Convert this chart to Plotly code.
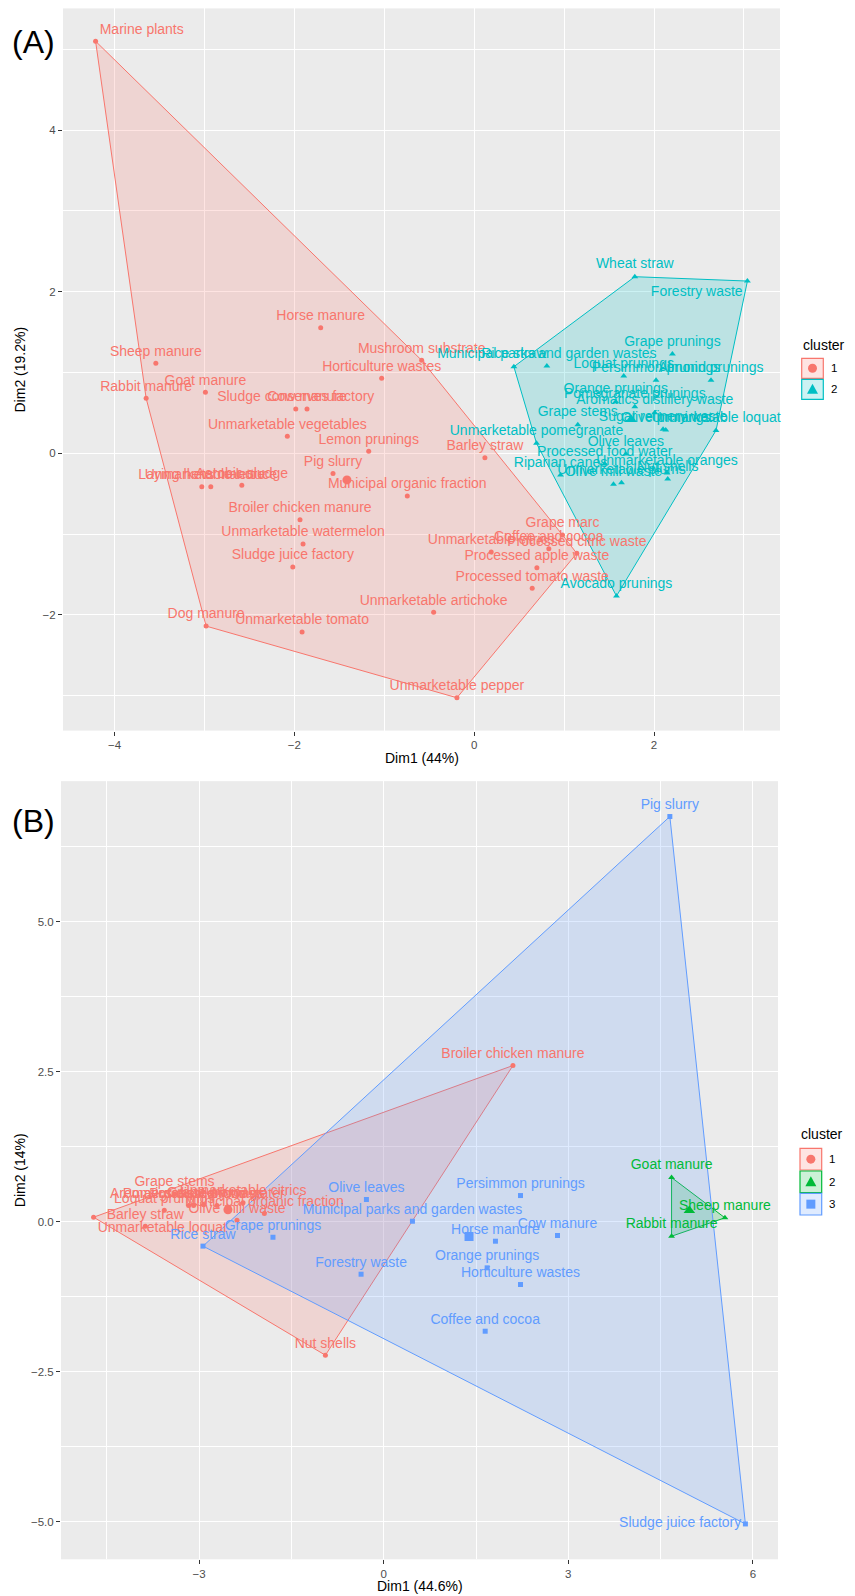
import plotly.graph_objects as go

W, H = 855, 1596
FONT = "Liberation Sans, Arial, Helvetica, sans-serif"
RED, CYAN, GREEN, BLUE = "#F8766D", "#00BFC4", "#00BA38", "#619CFF"

# ---------------- Panel A data (Dim1 44%, Dim2 19.2%) ----------------
a1_names = ["Marine plants", "Sheep manure", "Rabbit manure", "Goat manure", "Horse manure",
            "Sludge conserves factory", "Cow manure", "Mushroom substrate", "Horticulture wastes",
            "Unmarketable vegetables", "Lemon prunings", "Pig slurry", "Municipal organic fraction",
            "Laying hens manure", "Unmarketable lettuce", "Aerobic sludge", "Broiler chicken manure",
            "Unmarketable watermelon", "Sludge juice factory", "Dog manure", "Unmarketable tomato",
            "Unmarketable artichoke", "Unmarketable pepper", "Barley straw", "Grape marc",
            "Coffee and cocoa", "Unmarketable citrics", "Processed citric waste",
            "Processed apple waste", "Processed tomato waste"]
a1_x = [-4.21, -3.54, -3.648, -2.989, -1.707, -1.984, -1.859, -0.584, -1.029, -2.078, -1.173,
        -1.570, -0.744, -3.029, -2.929, -2.584, -1.937, -1.903, -2.017, -2.981, -1.914, -0.451,
        -0.192, 0.119, 0.982, 0.830, 0.189, 1.141, 0.697, 0.645]
a1_y = [5.10, 1.114, 0.681, 0.755, 1.554, 0.548, 0.548, 1.151, 0.928, 0.210, 0.025, -0.248,
        -0.528, -0.413, -0.413, -0.396, -0.822, -1.123, -1.407, -2.138, -2.212, -1.968, -3.025,
        -0.054, -1.011, -1.181, -1.221, -1.238, -1.416, -1.671]

a2_names = ["Wheat straw", "Forestry waste", "Rice straw", "Municipal parks and garden wastes",
            "Grape prunings", "Loquat prunings", "Persimmon prunings", "Almond prunings",
            "Orange prunings", "Pomegranate prunings", "Aromatics distillery waste", "Grape stems",
            "Sugar refinery waste", "Olive prunings", "Unmarketable loquat",
            "Unmarketable pomegranate", "Olive leaves", "Processed food water", "Riparian canes",
            "Unmarketable oranges", "Unmarketable plums", "Nut shells", "Olive mill waste",
            "Avocado prunings"]
a2_x = [1.786, 3.038, 0.441, 0.808, 2.204, 1.663, 2.022, 2.633, 1.574, 1.786, 2.008, 1.152,
        2.10, 2.13, 2.689, 0.693, 1.686, 1.452, 0.96, 2.144, 1.638, 2.152, 1.549, 1.582]
a2_y = [2.186, 2.132, 1.072, 1.080, 1.229, 0.957, 0.903, 0.903, 0.639, 0.577, 0.503, 0.354,
        0.297, 0.289, 0.284, 0.124, -0.009, -0.132, -0.269, -0.244, -0.364, -0.318, -0.384,
        -1.766]

# ---------------- Panel B data (Dim1 44.6%, Dim2 14%) ----------------
b1_names = ["Broiler chicken manure", "Nut shells", "Unmarketable loquat", "Barley straw",
            "Loquat prunings", "Aromatics distillery waste", "Grape marc", "Grape stems",
            "Unmarketable citrics", "Municipal organic fraction", "Olive mill waste",
            "Pomegranate prunings", "Processed food water"]
b1_x = [2.10, -0.948, -4.715, -3.875, -3.566, -3.171, -2.927, -3.399, -2.286, -1.94, -2.384,
        -3.09, -2.71]
b1_y = [2.60, -2.228, 0.072, -0.078, 0.188, 0.267, 0.278, 0.46, 0.312, 0.133, 0.022, 0.267,
        0.267]

b2_names = ["Goat manure", "Sheep manure", "Rabbit manure"]
b2_x = [4.678, 5.545, 4.678]
b2_y = [0.733, 0.062, -0.245]

b3_names = ["Pig slurry", "Persimmon prunings", "Olive leaves", "Municipal parks and garden wastes",
            "Horse manure", "Cow manure", "Orange prunings", "Horticulture wastes", "Forestry waste",
            "Coffee and cocoa", "Grape prunings", "Rice straw", "Sludge juice factory"]
b3_x = [4.65, 2.223, -0.281, 0.467, 1.816, 2.824, 1.681, 2.223, -0.368, 1.649, -1.80, -2.937,
        5.878]
b3_y = [6.75, 0.433, 0.367, 0.005, -0.328, -0.233, -0.772, -1.05, -0.878, -1.828, -0.262, -0.41,
        -5.04]

cluster_labels_a = ["1", "2"]
cluster_labels_b = ["1", "2", "3"]

# labels pushed inside the panel near its edges (as the repelled labels in the original)
label_pos_a = {"Marine plants": "top right", "Forestry waste": "bottom left"}
label_pos_b = {"Unmarketable loquat": "bottom right", "Sludge juice factory": "middle left"}


def hull(xs, ys):
    pts = sorted(set(zip(xs, ys)))
    if len(pts) < 3:
        return pts

    def cross(o, a, b):
        return (a[0] - o[0]) * (b[1] - o[1]) - (a[1] - o[1]) * (b[0] - o[0])

    lower, upper = [], []
    for p in pts:
        while len(lower) >= 2 and cross(lower[-2], lower[-1], p) <= 0:
            lower.pop()
        lower.append(p)
    for p in reversed(pts):
        while len(upper) >= 2 and cross(upper[-2], upper[-1], p) <= 0:
            upper.pop()
        upper.append(p)
    h = lower[:-1] + upper[:-1]
    return h + [h[0]]


def expand(*arrs):
    vals = [v for a in arrs for v in a]
    lo, hi = min(vals), max(vals)
    d = hi - lo
    return [lo - 0.05 * d, hi + 0.05 * d]


def rgba(hexc, a):
    h = hexc.lstrip("#")
    return "rgba(%d,%d,%d,%.2f)" % (int(h[0:2], 16), int(h[2:4], 16), int(h[4:6], 16), a)


fig = go.Figure()


def add_hull(xs, ys, color, xa, ya):
    hx, hy = zip(*hull(xs, ys))
    fig.add_trace(go.Scatter(x=list(hx), y=list(hy), mode="lines", fill="toself",
                             fillcolor=rgba(color, 0.2), line=dict(color=color, width=1),
                             xaxis=xa, yaxis=ya, hoverinfo="skip", showlegend=False))


def add_points(names, xs, ys, color, symbol, xa, ya, psize, csize, posmap):
    tpos = [posmap.get(n, "top center") for n in names]
    fig.add_trace(go.Scatter(x=xs, y=ys, mode="markers+text", text=names, textposition=tpos,
                             textfont=dict(family=FONT, size=14, color=color),
                             marker=dict(color=color, symbol=symbol, size=psize, line=dict(width=0)),
                             xaxis=xa, yaxis=ya, showlegend=False, cliponaxis=False))
    cx = sum(xs) / len(xs)
    cy = sum(ys) / len(ys)
    fig.add_trace(go.Scatter(x=[cx], y=[cy], mode="markers",
                             marker=dict(color=color, symbol=symbol, size=csize, line=dict(width=0)),
                             xaxis=xa, yaxis=ya, showlegend=False, hoverinfo="skip"))


clA = [(a1_names, a1_x, a1_y, RED, "circle", 5, 9),
       (a2_names, a2_x, a2_y, CYAN, "triangle-up", 6, 10)]
clB = [(b1_names, b1_x, b1_y, RED, "circle", 5, 9),
       (b2_names, b2_x, b2_y, GREEN, "triangle-up", 6, 10),
       (b3_names, b3_x, b3_y, BLUE, "square", 5, 9)]

for n, xs, ys, col, sym, ps, cs in clA:
    add_hull(xs, ys, col, "x", "y")
for n, xs, ys, col, sym, ps, cs in clB:
    add_hull(xs, ys, col, "x2", "y2")
for n, xs, ys, col, sym, ps, cs in clA:
    add_points(n, xs, ys, col, sym, "x", "y", ps, cs, label_pos_a)
for n, xs, ys, col, sym, ps, cs in clB:
    add_points(n, xs, ys, col, sym, "x2", "y2", ps, cs, label_pos_b)


def px(x):
    return x / W


def py(y):
    return 1 - y / H


axis_common = dict(showgrid=True, gridcolor="white", gridwidth=1.3, zeroline=False,
                   showline=False, ticks="outside", ticklen=4, tickwidth=1, tickcolor="#333333",
                   tickfont=dict(family=FONT, size=11.5, color="#4D4D4D"))

rangeB_y = expand(b1_y, b2_y, b3_y)
B_BOTTOM = 1559.3          # panel B bottom edge in pixels
B_PX_PER_UNIT = 60.0       # vertical scale of panel B
B_TOP = B_BOTTOM - B_PX_PER_UNIT * (rangeB_y[1] - rangeB_y[0])

fig.update_layout(
    width=W, height=H, margin=dict(l=0, r=0, t=0, b=0),
    paper_bgcolor="white", plot_bgcolor="#EBEBEB", showlegend=False,
    xaxis=dict(domain=[px(63), px(780)], range=expand(a1_x, a2_x), dtick=2, tick0=0,
               minor=dict(dtick=1, showgrid=True, gridcolor="white", gridwidth=0.6, ticks=""),
               anchor="y", **axis_common),
    yaxis=dict(domain=[py(730.6), py(8.4)], range=expand(a1_y, a2_y), dtick=2, tick0=0,
               minor=dict(dtick=1, showgrid=True, gridcolor="white", gridwidth=0.6, ticks=""),
               anchor="x", **axis_common),
    xaxis2=dict(domain=[px(61), px(778)], range=expand(b1_x, b2_x, b3_x), dtick=3, tick0=0,
                minor=dict(dtick=1.5, showgrid=True, gridcolor="white", gridwidth=0.6, ticks=""),
                anchor="y2", **axis_common),
    yaxis2=dict(domain=[py(B_BOTTOM), py(B_TOP)], range=rangeB_y, dtick=2.5, tick0=0,
                tickformat=".1f",
                minor=dict(dtick=1.25, showgrid=True, gridcolor="white", gridwidth=0.6, ticks=""),
                anchor="x2", **axis_common),
)

ann = []
tfont = dict(family=FONT, size=14, color="black")
ann.append(dict(text="Dim1 (44%)", x=px(421.5), y=py(758), xref="paper", yref="paper",
                showarrow=False, xanchor="center", yanchor="middle", font=tfont))
ann.append(dict(text="Dim2 (19.2%)", x=px(20), y=py(369.5), xref="paper", yref="paper",
                showarrow=False, xanchor="center", yanchor="middle", textangle=-90, font=tfont))
ann.append(dict(text="Dim1 (44.6%)", x=px(419.5), y=py(1585.5), xref="paper", yref="paper",
                showarrow=False, xanchor="center", yanchor="middle", font=tfont))
ann.append(dict(text="Dim2 (14%)", x=px(20), y=py((B_TOP + B_BOTTOM) / 2), xref="paper",
                yref="paper", showarrow=False, xanchor="center", yanchor="middle", textangle=-90,
                font=tfont))
ann.append(dict(text="(A)", x=px(33), y=py(42), xref="paper", yref="paper", showarrow=False,
                xanchor="center", yanchor="middle", font=dict(family=FONT, size=32, color="black")))
ann.append(dict(text="(B)", x=px(33), y=py(B_TOP + 40), xref="paper", yref="paper",
                showarrow=False, xanchor="center", yanchor="middle",
                font=dict(family=FONT, size=32, color="black")))

shapes = []


def legend(title_xy, keys_x, key_rows, labels, colors, symbols, label_x):
    ann.append(dict(text="cluster", x=px(title_xy[0]), y=py(title_xy[1]), xref="paper",
                    yref="paper", showarrow=False, xanchor="left", yanchor="middle",
                    font=dict(family=FONT, size=14, color="black")))
    for (y0, y1), lab, col, sym in zip(key_rows, labels, colors, symbols):
        shapes.append(dict(type="rect", xref="paper", yref="paper", x0=px(keys_x[0]),
                           x1=px(keys_x[1]), y0=py(y1), y1=py(y0), fillcolor=rgba(col, 0.2),
                           line=dict(color=col, width=1.2), layer="above"))
        cx = (keys_x[0] + keys_x[1]) / 2
        cy = (y0 + y1) / 2
        if sym == "circle":
            r = 4.5
            shapes.append(dict(type="circle", xref="paper", yref="paper", x0=px(cx - r),
                               x1=px(cx + r), y0=py(cy + r), y1=py(cy - r), fillcolor=col,
                               line=dict(width=0), layer="above"))
        elif sym == "triangle":
            path = "M %f %f L %f %f L %f %f Z" % (px(cx - 5.5), py(cy + 4.5), px(cx + 5.5),
                                                  py(cy + 4.5), px(cx), py(cy - 5.5))
            shapes.append(dict(type="path", xref="paper", yref="paper", path=path,
                               fillcolor=col, line=dict(width=0), layer="above"))
        else:
            r = 4.5
            shapes.append(dict(type="rect", xref="paper", yref="paper", x0=px(cx - r),
                               x1=px(cx + r), y0=py(cy + r), y1=py(cy - r), fillcolor=col,
                               line=dict(width=0), layer="above"))
        ann.append(dict(text=lab, x=px(label_x), y=py(cy), xref="paper", yref="paper",
                        showarrow=False, xanchor="center", yanchor="middle",
                        font=dict(family=FONT, size=11.5, color="black")))


legend((800.5, 345), (801.7, 823.3), [(358.3, 378.3), (379.3, 399.3)], cluster_labels_a,
       [RED, CYAN], ["circle", "triangle"], 833.5)
legend((799.3, 1134.3), (800, 821.7), [(1148.3, 1170), (1171, 1192.7), (1193.3, 1215)],
       cluster_labels_b, [RED, GREEN, BLUE], ["circle", "triangle", "square"], 832)

fig.update_layout(annotations=ann, shapes=shapes)
fig.write_html("out.html", config={"displayModeBar": False},
               post_script="document.body.style.margin='0px';"
                           "document.body.style.overflow='hidden';")
